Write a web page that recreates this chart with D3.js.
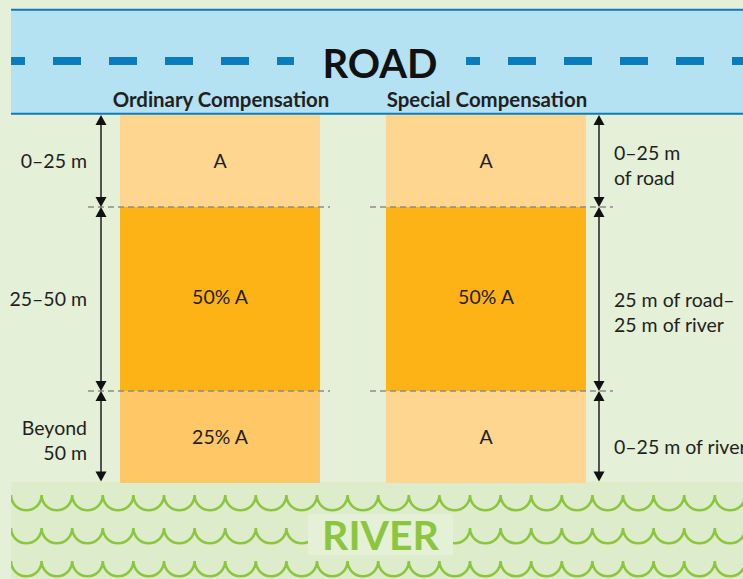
<!DOCTYPE html>
<html>
<head>
<meta charset="utf-8">
<script src="https://cdn.jsdelivr.net/npm/d3@7"></script>
<style>
  html, body { margin: 0; padding: 0; background: #e4f0d7; }
  svg { display: block; }
  text { font-family: Lato, "Open Sans", sans-serif; fill: #231f20; }
</style>
</head>
<body>
<svg id="chart" width="743" height="579"></svg>
<script>
// ---- data ----
const columns = ["Ordinary Compensation", "Special Compensation"];
const zoneLabels = [["0–25 m"], ["25–50 m"], ["Beyond", "50 m"]];
const zoneDepth = [1, 2, 1];               // relative depth of each zone (schematic)
const ordinaryValues = ["A", "50% A", "25% A"];
const specialValues = ["A", "50% A", "A"];
const specialLabels = [["0–25 m", "of road"], ["25 m of road–", "25 m of river"], ["0–25 m of river"]];
const valueColors = { "A": "#fed68f", "50% A": "#fdb216", "25% A": "#ffc766" };

const W = 743, H = 579;
const svg = d3.select("#chart");

// ---- scales ----
const x = d3.scaleBand().domain(columns).range([120, 586]).paddingInner(0.248).paddingOuter(0);
const cum = [0];
zoneDepth.forEach(d => cum.push(cum[cum.length - 1] + d));
const y = d3.scaleLinear().domain([0, cum[cum.length - 1]]).range([115, 483]);

// ---- road ----
const road = svg.append("g");
road.append("rect").attr("x", 11).attr("y", 9.5).attr("width", W - 11).attr("height", 104.5).attr("fill", "#b4e2f2");
road.append("line").attr("x1", 11).attr("x2", W).attr("y1", 9.8).attr("y2", 9.8).attr("stroke", "#0c7dbc").attr("stroke-width", 2);
road.append("line").attr("x1", 11).attr("x2", W).attr("y1", 113.8).attr("y2", 113.8).attr("stroke", "#0c7dbc").attr("stroke-width", 2);
road.append("line").attr("x1", 11).attr("x2", 294).attr("y1", 61).attr("y2", 61)
  .attr("stroke", "#0a7cbb").attr("stroke-width", 8).attr("stroke-dasharray", "28,28").attr("stroke-dashoffset", 14);
road.append("line").attr("x1", 466).attr("x2", W).attr("y1", 61).attr("y2", 61)
  .attr("stroke", "#0a7cbb").attr("stroke-width", 8).attr("stroke-dasharray", "28,28").attr("stroke-dashoffset", 14);
road.append("text").attr("x", 380).attr("y", 77.5).attr("text-anchor", "middle")
  .style("font-size", "40px").style("font-weight", "700").style("fill", "#111").text("ROAD");

// column headers
svg.selectAll(".hdr").data(columns).join("text").attr("class", "hdr")
  .attr("x", d => x(d) + x.bandwidth() / 2 + 1).attr("y", 107).attr("text-anchor", "middle")
  .style("font-size", "20.4px").style("font-weight", "700").text(d => d);

// ---- river ----
const river = svg.append("g");
river.append("rect").attr("x", 11).attr("y", 482).attr("width", W - 11).attr("height", H - 482).attr("fill", "#ddecca");
const clip = svg.append("clipPath").attr("id", "rc");
clip.append("rect").attr("x", 11).attr("y", 482).attr("width", W - 11).attr("height", H - 482);
const period = 30.6, r = period / 2;
const rows = [495, 528, 561];
const wavePath = cy => {
  let p = `M11,${cy}`;
  for (let xx = 11; xx < W + period; xx += period) p += ` A${r},${r} 0 0 0 ${xx + period},${cy}`;
  return p;
};
river.append("g").attr("clip-path", "url(#rc)").selectAll("path").data(rows).join("path")
  .attr("d", d => wavePath(d)).attr("fill", "none").attr("stroke", "#8cc63f").attr("stroke-width", 2.6);
river.append("rect").attr("x", 308).attr("y", 514).attr("width", 145).attr("height", 41).attr("fill", "#e5f1d7");
river.append("text").attr("x", 380.5).attr("y", 549.5).attr("text-anchor", "middle")
  .style("font-size", "41px").style("font-weight", "700").style("fill", "#8cc63f").text("RIVER");

// ---- columns ----
const colData = [ordinaryValues, specialValues];
const valueDy = [6.5, 5, 6.5];
columns.forEach((c, ci) => {
  const g = svg.append("g");
  g.selectAll("rect").data(colData[ci]).join("rect")
    .attr("x", x(c)).attr("width", x.bandwidth())
    .attr("y", (d, i) => y(cum[i])).attr("height", (d, i) => y(cum[i + 1]) - y(cum[i]))
    .attr("fill", d => valueColors[d]);
  g.selectAll("text").data(colData[ci]).join("text")
    .attr("x", x(c) + x.bandwidth() / 2)
    .attr("y", (d, i) => (y(cum[i]) + y(cum[i + 1])) / 2 + valueDy[i])
    .attr("text-anchor", "middle").style("font-size", "19.5px").text(d => d);
});

// ---- dashed separators ----
[1, 2].forEach(k => {
  [[88, 330], [370, 613]].forEach(([a, b]) => {
    svg.append("line").attr("x1", a).attr("x2", b).attr("y1", y(cum[k])).attr("y2", y(cum[k]))
      .attr("stroke", "#8c8c8c").attr("stroke-width", 1.5).attr("stroke-dasharray", "6,4");
  });
});

// ---- arrows ----
function arrow(ax, y0, y1) {
  const g = svg.append("g");
  g.append("line").attr("x1", ax).attr("x2", ax).attr("y1", y0 + 6).attr("y2", y1 - 6).attr("stroke", "#111").attr("stroke-width", 1.4);
  g.append("path").attr("d", `M${ax},${y0} L${ax - 5.5},${y0 + 10} L${ax + 5.5},${y0 + 10} Z`).attr("fill", "#111");
  g.append("path").attr("d", `M${ax},${y1} L${ax - 5.5},${y1 - 10} L${ax + 5.5},${y1 - 10} Z`).attr("fill", "#111");
}
zoneDepth.forEach((d, i) => {
  const y0 = y(cum[i]), y1 = Math.min(y(cum[i + 1]), 481.5);
  arrow(101, y0, y1);
  arrow(599, y0, y1);
});

// ---- zone labels (first-line baseline offset from zone middle) ----
const lh = 25;
const leftDy = [6.5, 7, -2];
const rightDy = [-1.5, 8, 17];
zoneLabels.forEach((lines, i) => {
  const mid = (y(cum[i]) + y(cum[i + 1])) / 2;
  const t = svg.append("text").attr("text-anchor", "end").style("font-size", "19.5px");
  lines.forEach((l, j) => {
    t.append("tspan").attr("x", 87).attr("y", mid + leftDy[i] + j * lh).text(l);
  });
});
specialLabels.forEach((lines, i) => {
  const mid = (y(cum[i]) + y(cum[i + 1])) / 2;
  const t = svg.append("text").attr("text-anchor", "start").style("font-size", "19.5px");
  lines.forEach((l, j) => {
    t.append("tspan").attr("x", 614).attr("y", mid + rightDy[i] + j * lh).text(l);
  });
});
</script>
</body>
</html>
